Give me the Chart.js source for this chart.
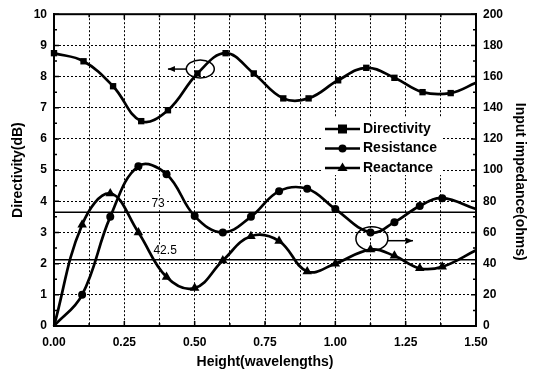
<!DOCTYPE html>
<html>
<head>
<meta charset="utf-8">
<script src="https://cdn.jsdelivr.net/npm/chart.js@4"></script>
<style>
html,body{margin:0;padding:0;background:#fff;}
</style>
</head>
<body>
<canvas id="chart" width="536" height="374"></canvas>
<script>
// directivity (dB), left axis
var dirHeight = [0, 0.105, 0.21, 0.31, 0.405, 0.51, 0.61, 0.71, 0.815, 0.905, 1.01, 1.11, 1.21, 1.31, 1.41, 1.5];
var directivity = [8.75, 8.49, 7.69, 6.57, 6.92, 8.1, 8.75, 8.1, 7.3, 7.3, 7.88, 8.28, 7.96, 7.5, 7.47, 7.8];
// input impedance (ohms), right axis
var zHeight = [0, 0.1, 0.2, 0.3, 0.4, 0.5, 0.6, 0.7, 0.8, 0.9, 1.0, 1.125, 1.21, 1.3, 1.38, 1.5];
var resistance = [0, 20, 70, 102.5, 97.4, 70.5, 60, 70, 86.5, 88, 75, 60, 66.6, 77, 82, 75];
var reactance = [0, 65, 85, 60, 31.4, 24.3, 42, 57.6, 54.5, 35, 40, 49, 45, 37, 38, 48.6];
// reference levels (ohms)
var refLevels = [73, 42.5];
var refLabels = ['73', '42.5'];

var font = 'Liberation Sans, Arial, sans-serif';

function pts(xs, ys){ return xs.map(function(x,i){ return {x:x, y:ys[i]}; }); }
function radii(n, r){ return Array.from({length:n}, function(_,i){ return (i==0 || i==n-1) ? 0 : r; }); }

var dirRadius = radii(directivity.length, 4.5); dirRadius[0] = 4.5;

var datasets = [
  { label:'Directivity', data:pts(dirHeight, directivity), yAxisID:'y', pointStyle:'rect', pointRadius:dirRadius },
  { label:'Resistance', data:pts(zHeight, resistance), yAxisID:'y2', pointStyle:'circle', pointRadius:radii(resistance.length, 4) },
  { label:'Reactance', data:pts(zHeight, reactance), yAxisID:'y2', pointStyle:'triangle', pointRadius:radii(reactance.length, 5.5) }
];
datasets.forEach(function(d){
  d.borderColor = '#000'; d.backgroundColor = '#000'; d.borderWidth = 2.7;
  d.tension = 0.4; d.clip = false; d.pointBorderWidth = 0;
});
refLevels.forEach(function(v){
  datasets.push({ label:'ref'+v, data:[{x:0,y:v},{x:1.5,y:v}], yAxisID:'y2',
    borderColor:'#000', borderWidth:1.5, pointRadius:0, tension:0 });
});

function arrow(c, x1, y1, x2, y2){
  c.beginPath(); c.moveTo(x1,y1); c.lineTo(x2,y2); c.stroke();
  var d = x2 > x1 ? -1 : 1;
  c.beginPath(); c.moveTo(x2,y2); c.lineTo(x2+d*7,y2-3); c.lineTo(x2+d*7,y2+3); c.closePath(); c.fill();
}

var extras = {
  id:'extras',
  beforeDatasetsDraw:function(chart){
    var c = chart.ctx, sx = chart.scales.x, sr = chart.scales.y2;
    c.save();
    c.fillStyle = '#fff';
    // legend box hides the grid
    c.fillRect(322, 117, 119, 58);
    // clear grid around reference labels
    c.font = '12px ' + font;
    var w0 = c.measureText(refLabels[0]).width, w1 = c.measureText(refLabels[1]).width;
    var x0 = sx.getPixelForValue(0.37), y0 = sr.getPixelForValue(refLevels[0]) - 3;
    var x1 = sx.getPixelForValue(0.395), y1 = sr.getPixelForValue(refLevels[1]) - 3;
    c.fillRect(x0 - w0/2 - 2, y0 - 11, w0 + 4, 10);
    c.fillRect(x1 - w1/2 - 2, y1 - 11, w1 + 4, 10);
    c.restore();
  },
  afterDatasetsDraw:function(chart){
    var c = chart.ctx, a = chart.chartArea;
    var sx = chart.scales.x, sl = chart.scales.y, sr = chart.scales.y2;
    c.save();
    c.strokeStyle = '#000'; c.fillStyle = '#000';
    c.lineWidth = 2;
    c.strokeRect(a.left, a.top, a.right-a.left, a.bottom-a.top);
    // inward ticks
    c.lineWidth = 1.5;
    c.beginPath();
    for (var v = 0; v <= 1.5001; v += 0.125) {
      var px = sx.getPixelForValue(v), len = (Math.round(v/0.125) % 2 == 0) ? 5 : 3;
      c.moveTo(px, a.bottom); c.lineTo(px, a.bottom-len);
      c.moveTo(px, a.top); c.lineTo(px, a.top+len);
    }
    for (var k = 0; k <= 20; k++) {
      var py = sl.getPixelForValue(k/2), l2 = (k % 2 == 0) ? 5 : 3;
      c.moveTo(a.left, py); c.lineTo(a.left+l2, py);
      c.moveTo(a.right, py); c.lineTo(a.right-l2, py);
    }
    c.stroke();
    // reference labels
    c.font = '12px ' + font; c.textAlign = 'center'; c.textBaseline = 'bottom';
    c.fillText(refLabels[0], sx.getPixelForValue(0.37), sr.getPixelForValue(refLevels[0]) - 3);
    c.fillText(refLabels[1], sx.getPixelForValue(0.395), sr.getPixelForValue(refLevels[1]) - 3);
    // ellipse markers with arrows
    c.lineWidth = 1.5;
    var ex = sx.getPixelForValue(0.52), ey = sl.getPixelForValue(8.24);
    c.beginPath(); c.ellipse(ex, ey, 14, 9, 0, 0, 2*Math.PI); c.stroke();
    arrow(c, ex-14, ey, sx.getPixelForValue(0.405), ey);
    var fx = sx.getPixelForValue(1.13), fy = sr.getPixelForValue(56);
    c.beginPath(); c.ellipse(fx, fy, 16, 12, 0, 0, 2*Math.PI); c.stroke();
    arrow(c, fx+16, fy+2, sx.getPixelForValue(1.276), fy+2);
    // legend
    var names = ['Directivity','Resistance','Reactance'];
    c.font = 'bold 14px ' + font; c.textAlign = 'left'; c.textBaseline = 'middle';
    names.forEach(function(n, i){
      var y = 129 + i*19.5;
      c.lineWidth = 2.5;
      c.beginPath(); c.moveTo(325, y); c.lineTo(360, y); c.stroke();
      c.beginPath();
      if (i == 0) c.rect(338, y-4.5, 9, 9);
      else if (i == 1) c.arc(342.5, y, 4, 0, 2*Math.PI);
      else { c.moveTo(342.5, y-5.5); c.lineTo(347.5, y+3); c.lineTo(337.5, y+3); c.closePath(); }
      c.fill();
      c.fillText(n, 363, y);
    });
    c.restore();
  }
};

var tickFont = { family:font, size:12, weight:'bold' };
var titleFont = { family:font, size:14, weight:'bold' };

var chart = new Chart(document.getElementById('chart').getContext('2d'), {
  type:'line',
  data:{ datasets:datasets },
  options:{
    responsive:false,
    animation:false,
    layout:{ padding:{ top:14, left:0, right:0, bottom:0 } },
    plugins:{ legend:{ display:false }, tooltip:{ enabled:false } },
    scales:{
      x:{
        type:'linear', min:0, max:1.5,
        ticks:{ stepSize:0.125, autoSkip:false, maxRotation:0, padding:9, color:'#000', font:tickFont,
          callback:function(v){ var q = v/0.25; return Math.abs(q-Math.round(q)) < 1e-6 ? v.toFixed(2) : ''; } },
        grid:{ color:'#000', lineWidth:1, drawTicks:false },
        border:{ display:true, color:'#000', width:2, dash:[2,2] },
        title:{ display:true, text:'Height(wavelengths)', color:'#000', font:titleFont, padding:{ top:0, bottom:3 } },
        afterFit:function(s){ s.height = 48; }
      },
      y:{
        type:'linear', position:'left', min:0, max:10,
        ticks:{ stepSize:1, padding:7, color:'#000', font:tickFont },
        grid:{ color:'#000', lineWidth:1, drawTicks:false },
        border:{ display:true, color:'#000', width:2, dash:[2,2] },
        title:{ display:true, text:'Directivity(dB)', color:'#000', font:titleFont, padding:{ top:10, bottom:0 } },
        afterFit:function(s){ s.width = 54; }
      },
      y2:{
        type:'linear', position:'right', min:0, max:200,
        ticks:{ stepSize:20, padding:7, color:'#000', font:tickFont },
        grid:{ drawOnChartArea:false, drawTicks:false },
        border:{ display:true, color:'#000', width:2 },
        title:{ display:true, text:'      Input impedance(ohms)', color:'#000', font:titleFont, padding:{ top:8, bottom:0 } },
        afterFit:function(s){ s.width = 60; }
      }
    }
  },
  plugins:[extras]
});
</script>
</body>
</html>
